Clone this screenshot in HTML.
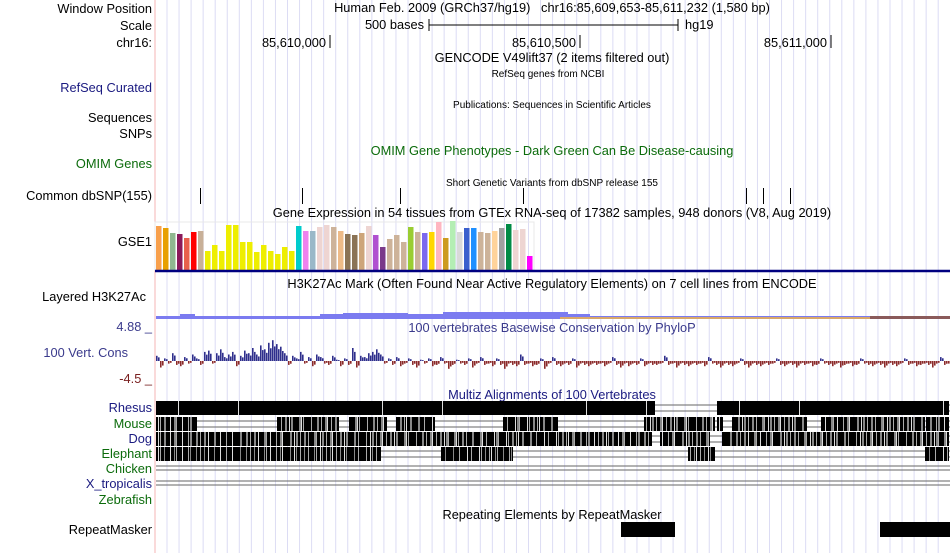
<!DOCTYPE html>
<html><head><meta charset="utf-8">
<style>
html,body{margin:0;padding:0;background:#fff;}
svg{display:block;font-family:"Liberation Sans",sans-serif;}
text{font-size:12.8px;}
</style></head>
<body>
<svg id="c" width="950" height="553" viewBox="0 0 950 553" xmlns="http://www.w3.org/2000/svg">
<g id="grid"></g>
<line x1="155" y1="0" x2="155" y2="553" stroke="#f4b4b4" stroke-width="1"/>
<g text-anchor="end" fill="#000">
<text x="152" y="13">Window Position</text>
<text x="152" y="30">Scale</text>
<text x="152" y="47">chr16:</text>
<text x="152" y="92" fill="#1a1a80">RefSeq Curated</text>
<text x="152" y="122">Sequences</text>
<text x="152" y="138">SNPs</text>
<text x="152" y="168" fill="#0b6b0b">OMIM Genes</text>
<text x="152" y="200">Common dbSNP(155)</text>
<text x="152" y="246">GSE1</text>
<text x="146" y="301">Layered H3K27Ac</text>
<text x="152" y="331" fill="#3a3a8c">4.88 _</text>
<text x="128" y="357" fill="#3a3a8c">100 Vert. Cons</text>
<text x="152" y="383" fill="#7a2020">-4.5 _</text>
<text x="152" y="412" fill="#1a1a80">Rhesus</text>
<text x="152" y="428" fill="#0b6b0b">Mouse</text>
<text x="152" y="443" fill="#1a1a80">Dog</text>
<text x="152" y="458" fill="#0b6b0b">Elephant</text>
<text x="152" y="473" fill="#0b6b0b">Chicken</text>
<text x="152" y="488" fill="#1a1a80">X_tropicalis</text>
<text x="152" y="504" fill="#0b6b0b">Zebrafish</text>
<text x="152" y="534">RepeatMasker</text>
</g>
<g text-anchor="middle">
<text x="552" y="12">Human Feb. 2009 (GRCh37/hg19)&#160;&#160;&#160;chr16:85,609,653-85,611,232 (1,580 bp)</text>
<text x="552" y="62">GENCODE V49lift37 (2 items filtered out)</text>
<text x="548" y="77" style="font-size:10px">RefSeq genes from NCBI</text>
<text x="552" y="108" style="font-size:10px">Publications: Sequences in Scientific Articles</text>
<text x="552" y="155" fill="#0b6b0b">OMIM Gene Phenotypes - Dark Green Can Be Disease-causing</text>
<text x="552" y="186" style="font-size:10px">Short Genetic Variants from dbSNP release 155</text>
<text x="552" y="217">Gene Expression in 54 tissues from GTEx RNA-seq of 17382 samples, 948 donors (V8, Aug 2019)</text>
<text x="552" y="288">H3K27Ac Mark (Often Found Near Active Regulatory Elements) on 7 cell lines from ENCODE</text>
<text x="552" y="332" fill="#3a3a8c">100 vertebrates Basewise Conservation by PhyloP</text>
<text x="552" y="399" fill="#1a1a80">Multiz Alignments of 100 Vertebrates</text>
<text x="552" y="519">Repeating Elements by RepeatMasker</text>
</g>
<g>
<text x="424" y="29" text-anchor="end">500 bases</text>
<line x1="429" y1="25" x2="678" y2="25" stroke="#000"/>
<line x1="429" y1="19" x2="429" y2="31" stroke="#000"/>
<line x1="678" y1="19" x2="678" y2="31" stroke="#000"/>
<text x="685" y="29">hg19</text>
</g>
<g>
<text x="326" y="47" text-anchor="end">85,610,000</text><line x1="330" y1="35" x2="330" y2="48" stroke="#000"/>
<text x="576" y="47" text-anchor="end">85,610,500</text><line x1="580" y1="35" x2="580" y2="48" stroke="#000"/>
<text x="827" y="47" text-anchor="end">85,611,000</text><line x1="831" y1="35" x2="831" y2="48" stroke="#000"/>
</g>
<g id="snps"></g>
<g id="gtex"></g>
<line x1="155" y1="271" x2="950" y2="271" stroke="#000080" stroke-width="2.5"/>
<g>
<rect x="156" y="316" width="794" height="3" fill="#7b7bf0"/>
<rect x="180" y="314" width="15" height="2" fill="#7b7bf0"/>
<rect x="320" y="314" width="90" height="2" fill="#7b7bf0"/>
<rect x="343" y="313" width="65" height="3" fill="#7b7bf0"/>
<rect x="410" y="314" width="180" height="2" fill="#7b7bf0"/>
<rect x="443" y="312" width="125" height="4" fill="#7b7bf0"/>
<rect x="530" y="314" width="60" height="2" fill="#7b7bf0"/>
<rect x="560" y="317" width="390" height="2" fill="#d9a86a"/>
<rect x="870" y="316" width="80" height="3" fill="#8a5a5a"/>
</g>
<g id="cons"></g>
<g id="multiz"></g>
<g>
<rect x="621" y="522" width="54" height="15" fill="#000"/>
<rect x="880" y="522" width="70" height="15" fill="#000"/>
</g>
</svg>
<script>
const NS="http://www.w3.org/2000/svg";
function mk(tag,attrs,parent){const e=document.createElementNS(NS,tag);for(const k in attrs)e.setAttribute(k,attrs[k]);parent.appendChild(e);return e;}
const grid=document.getElementById('grid');
for(let x=167;x<950;x+=12.05){const l=mk('line',{x1:x,y1:0,x2:x,y2:553,stroke:'#dcdcf4','stroke-width':1},grid);

}
const snpPositions=[200,302,400,523,746,763,790];
const sg=document.getElementById('snps');
snpPositions.forEach(x=>{const l=mk('line',{x1:x+0.5,y1:188,x2:x+0.5,y2:204,stroke:'#000'},sg);

});
const gtexValues=[44,42,37,36,32,38,39,19,25,19,45,45,28,28,18,25,19,16,23,19,44,39,39,43,45,43,39,36,35,37,44,35,23,31,35,28,43,38,37,38,48,32,49,38,42,42,38,37,39,42,46,40,41,14];
const gtexColors=["#f8a04c","#e8a000","#90b890","#8b1a5a","#e8604c","#ff0000","#c8b098","#eeee00","#eeee00","#eeee00","#eeee00","#eeee00","#eeee00","#eeee00","#eeee00","#eeee00","#eeee00","#eeee00","#eeee00","#eeee00","#00cccc","#ee82ee","#9ab8c8","#eed5d2","#eed5d2","#cdb39a","#eebb88","#8b7355","#8b7355","#cda57a","#eed5d2","#b050d0","#7a3a8a","#cdb39a","#cdb39a","#cdb39a","#9acd32","#cdb39a","#7b68ee","#ffd700","#ffb6c1","#cd9b1d","#b4eeb4","#d9d9d9","#3a5fcd","#1e90ff","#cdb39a","#cdb39a","#ffd39b","#a0a0a0","#008b45","#eed5d2","#eed5d2","#ff00ff"];
const gg=document.getElementById('gtex');
mk('rect',{x:155,y:222,width:379,height:48,fill:'none',stroke:'#e8e8e8'},gg);
const gBase=270,gScale=1.0;
gtexValues.forEach((v,i)=>{const r=mk('rect',{x:156+i*7,y:gBase-v*gScale,width:5.5,height:v*gScale,fill:gtexColors[i]},gg);

});
const consValues=[4,-5,2,-2,6,-3,-4,3,-2,5,2,-3,7,8,-2,6,9,3,5,7,-4,4,8,6,10,5,12,9,14,16,13,11,6,-3,4,2,7,-2,3,-4,5,3,-2,-3,4,1,-4,2,-3,10,-5,4,3,6,7,9,5,-2,2,-3,3,-4,-2,2,-3,-5,1,-2,2,-4,-3,3,-2,-6,-3,1,-2,-3,2,-5,-2,3,-3,-2,-4,2,-3,-6,-2,-3,-4,5,-3,-2,-4,-3,2,-6,-2,3,-3,-4,-2,-3,2,-5,-2,-3,-4,-2,-3,-2,-4,-2,3,-3,-5,-2,-4,-2,-3,2,-4,-2,-3,-3,-2,4,-3,-2,-5,-2,-3,-4,-2,-3,-2,-4,3,-2,-3,-5,-2,-3,-4,-2,2,-3,-5,-2,-3,-4,-2,-3,-2,2,-3,-4,-2,-3,-5,-2,-3,-2,-4,-3,2,-2,-3,-4,-2,-5,-3,-2,-4,-3,2,-2,-3,-4,-2,-3,-5,-2,-3,-4,-2,2,-3,-2,-4,-3,-2,-3,-5,-2,3,-3,-2];
const cg=document.getElementById('cons');
const zero=361, cScale=1.3;
consValues.forEach((v,i)=>{const x=156+i*4;const h=Math.abs(v)*cScale;
const col=v>0?'#2e2e8c':'#8b2a2a';
const r=mk('rect',{x:x,y:v>0?zero-h:zero,width:1.6,height:h,fill:col},cg);


const r2=mk('rect',{x:x+2,y:v>0?zero-h*0.7:zero,width:1.6,height:h*0.7,fill:col},cg);

});
const species=[
 {name:'rhesus',y:401,blocks:[[156,655],[717,949]],shade:0.05},
 {name:'mouse',y:417,blocks:[[156,197],[277,339],[349,387],[396,435],[503,558],[644,715],[717,723],[732,807],[821,925],[926,949]],shade:0.4},
 {name:'dog',y:432,blocks:[[156,652],[660,710],[722,949]],shade:0.35},
 {name:'elephant',y:447,blocks:[[156,381],[441,513],[688,715],[925,949]],shade:0.25}];
const mg=document.getElementById('multiz');
const pat=[1,0,2,0,0,1,3,0,0,2,0,1,0,0,3,1,0,2,0,0,1,0,3,2,0,0,1,0,2,0,3,0];
species.forEach(s=>{
 const l1=mk('line',{x1:156,y1:s.y+4,x2:950,y2:s.y+4,stroke:'#666'},mg);
 
 
 const l2=mk('line',{x1:156,y1:s.y+10,x2:950,y2:s.y+10,stroke:'#666'},mg);
 
 
 s.blocks.forEach(b=>{
  const r=mk('rect',{x:b[0],y:s.y,width:b[1]-b[0],height:14,fill:'#000'},mg);
  
  
  let k=0;
  const step=s.shade<0.1?4:2;
  for(let x=b[0]+2;x<b[1]-1;x+=step){const p=pat[(k+Math.floor(x/7))%pat.length];k++;
   if(p===0)continue;
   if(s.shade<0.1&&(p<3||k%3))continue;
   const col=s.shade<0.1?'#ddd':(p===1?'#888':(p===2?'#aaa':'#ddd'));
   const w=s.shade>0.3&&p===1?2:1;
   const st=mk('rect',{x:x,y:s.y,width:w,height:14,fill:col},mg);
   
   }
 });
});
[[466,'chicken'],[470,'chicken'],[481,'x-tropicalis'],[485,'x-tropicalis']].forEach(a=>{
 const l=mk('line',{x1:156,y1:a[0],x2:950,y2:a[0],stroke:'#666'},mg);
 
 });
</script>
</body></html>
